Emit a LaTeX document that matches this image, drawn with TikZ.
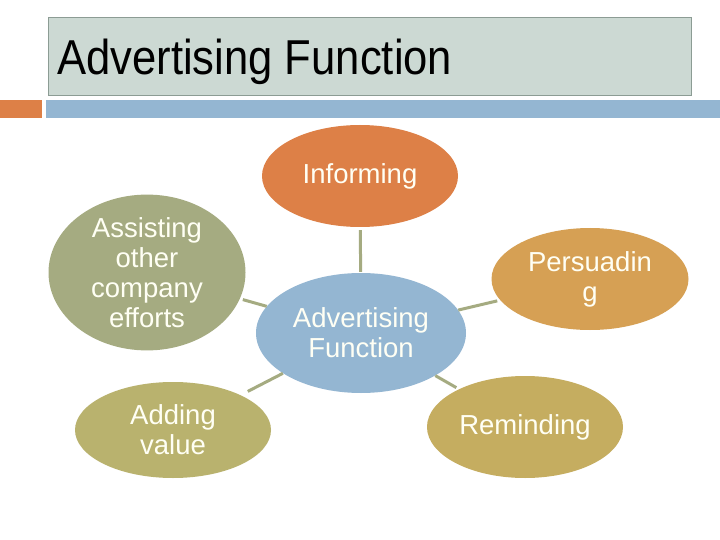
\documentclass[tikz,border=0pt]{standalone}
\usepackage{fontspec}
\usepackage{graphicx}
\setmainfont{Liberation Sans}
\usetikzlibrary{shapes.geometric}
\definecolor{titlefill}{HTML}{CCD9D3}
\definecolor{titleline}{HTML}{8C9C94}
\definecolor{orangec}{HTML}{DD8047}
\definecolor{bluec}{HTML}{94B6D2}
\definecolor{assistc}{HTML}{A5AB81}
\definecolor{addc}{HTML}{B9B26E}
\definecolor{persc}{HTML}{D6A054}
\definecolor{remc}{HTML}{C5AD60}
\definecolor{linkc}{HTML}{A5AB81}
\definecolor{txtc}{HTML}{FFFFF4}
\tikzset{
  bubble/.style={ellipse, inner sep=0pt, text=txtc, align=center,
    font=\fontsize{27.5}{30}\selectfont},
  link/.style={draw=linkc, line width=3pt, shorten >=3pt}
}
\begin{document}
\begin{tikzpicture}[x=1pt,y=-1pt]
\useasboundingbox (0,0) rectangle (720,540);
\fill[white] (0,0) rectangle (720,540);
% title
\draw[fill=titlefill, draw=titleline, line width=1pt] (48,18) rectangle (691,96);
\node[anchor=base west, inner sep=0pt] (title) at (57,75)
  {\fontsize{49}{50}\selectfont\scalebox{0.89}[1]{Advertising Function}};
\fill[orangec] (0,100) rectangle (42,118);
\fill[bluec] (46,100) rectangle (720,118);
% bubbles
\node[bubble, fill=bluec, minimum width=210pt, minimum height=120pt] (c) at (361,333) {Advertising\\Function};
\node[bubble, fill=orangec, minimum width=196pt, minimum height=102pt] (inf) at (360,176) {Informing};
\node[bubble, fill=assistc, minimum width=197pt, minimum height=135pt] (ass) at (147,272.5) {Assisting\\other\\company\\efforts};
\node[bubble, fill=addc, minimum width=196pt, minimum height=96pt] (add) at (173,430) {Adding\\value};
\node[bubble, fill=persc, minimum width=197pt, minimum height=102pt] (per) at (590,279) {Persuadin\\g};
\node[bubble, fill=remc, minimum width=196pt, minimum height=102pt] (rem) at (525,427) {Reminding};
% links
\draw[link, shorten <=1pt] (c) -- (inf);
\draw[link] (c) -- (ass);
\draw[link, shorten >=8pt] (c) -- (add);
\draw[link] (c) -- (per);
\draw[link] (c) -- (rem);
\end{tikzpicture}
\end{document}
